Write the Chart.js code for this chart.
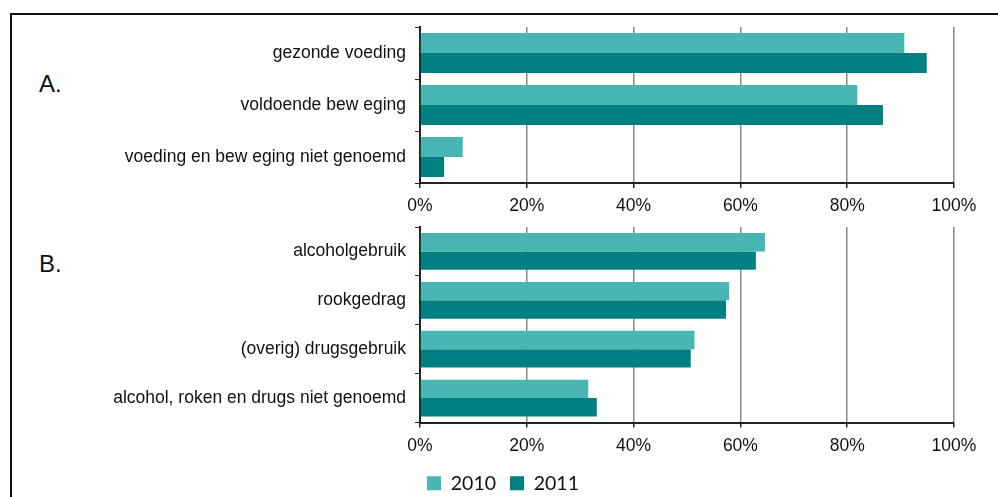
<!DOCTYPE html>
<html>
<head>
<meta charset="utf-8">
<script src="https://cdn.jsdelivr.net/npm/chart.js@4.4.0/dist/chart.umd.min.js"></script>
<style>
  html, body { margin: 0; padding: 0; background: #fff; width: 998px; height: 497px; overflow: hidden; }
  #kader { position: absolute; left: 10px; top: 13px; width: 1000px; height: 500px; border-left: 2px solid #111; border-top: 2px solid #111; }
  .deel { position: absolute; left: 39px; font: 24px "Liberation Sans", Arial, sans-serif; line-height: 24px; color: #111; }
  #grafiekA { position: absolute; left: 0; top: 0; }
  #grafiekB { position: absolute; left: 52px; top: 200px; }
</style>
</head>
<body>
<div id="kader"></div>
<div class="deel" style="top:72px">A.</div>
<div class="deel" style="top:252px">B.</div>
<canvas id="grafiekA" width="998" height="220"></canvas>
<canvas id="grafiekB" width="946" height="303"></canvas>
<script>
const jaren = ['2010', '2011'];
const kleuren = ['#47b6b5', '#008080'];

const labelsA = ['gezonde voeding', 'voldoende bew eging', 'voeding en bew eging niet genoemd'];
const waarden2010A = [90.7, 81.9, 8.0];
const waarden2011A = [94.9, 86.7, 4.5];

const labelsB = ['alcoholgebruik', 'rookgedrag', '(overig) drugsgebruik', 'alcohol, roken en drugs niet genoemd'];
const waarden2010B = [64.6, 57.9, 51.4, 31.5];
const waarden2011B = [62.9, 57.3, 50.7, 33.1];

const tickWaarden = [0, 20, 40, 60, 80, 100];

const tekstFont = { family: '"Liberation Sans", Arial, sans-serif', size: 17.5 };

function maakGrafiek(id, labels, data2010, data2011, yBreedte, xHoogte, padding, categorie, metLegenda) {
    return new Chart(document.getElementById(id), {
        type: 'bar',
        data: {
            labels: labels,
            datasets: [
                { label: jaren[0], data: data2010, backgroundColor: kleuren[0] },
                { label: jaren[1], data: data2011, backgroundColor: kleuren[1] }
            ]
        },
        options: {
            indexAxis: 'y',
            responsive: false,
            animation: false,
            layout: { padding: padding },
            datasets: { bar: { barPercentage: 1, categoryPercentage: categorie } },
            plugins: {
                legend: {
                    display: metLegenda,
                    position: 'bottom',
                    labels: {
                        color: '#111',
                        font: { family: 'Lato, "Open Sans", sans-serif', size: 19.5 },
                        boxWidth: 14,
                        boxHeight: 14,
                        padding: 14
                    }
                },
                tooltip: { enabled: false }
            },
            scales: {
                x: {
                    min: 0,
                    max: 100,
                    afterBuildTicks: function (s) { s.ticks = tickWaarden.map(v => ({ value: v })) },
                    afterFit: function (s) { s.height = xHoogte },
                    grid: { color: '#8a8a8a', lineWidth: 1.5, tickColor: '#222', tickLength: 5 },
                    border: { color: '#222', width: 2 },
                    ticks: { color: '#111', font: tekstFont, padding: 8, maxRotation: 0, callback: v => v + '%' }
                },
                y: {
                    afterFit: function (s) { s.width = yBreedte },
                    grid: { drawOnChartArea: false, color: '#222', tickLength: 5 },
                    border: { color: '#222', width: 2 },
                    ticks: { color: '#111', font: tekstFont, padding: 9 }
                }
            }
        }
    });
}

maakGrafiek('grafiekA', labelsA, waarden2010A, waarden2011A, 420, 37, { top: 27, right: 44, left: 0, bottom: 0 }, 0.77, false);
maakGrafiek('grafiekB', labelsB, waarden2010B, waarden2011B, 368, 37, { top: 27, right: 44, left: 0, bottom: 0 }, 0.75, true);
</script>
</body>
</html>
